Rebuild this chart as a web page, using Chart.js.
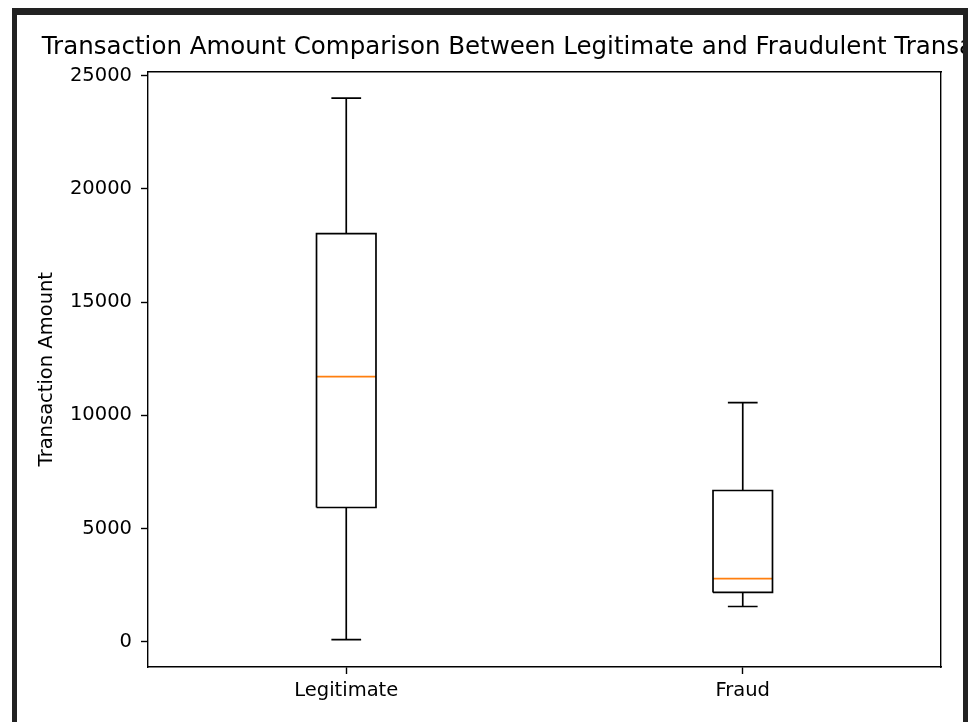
<!DOCTYPE html>
<html>
<head>
<meta charset="utf-8">
<script src="https://cdn.jsdelivr.net/npm/chart.js@4.4.1/dist/chart.umd.min.js"></script>
<style>
    body { margin: 0; background: #fff; overflow: hidden; }
    #frame {
        position: absolute; left: 12px; top: 8px;
        width: 946px; height: 720px;
        border-top: 7px solid #222; border-left: 5px solid #222; border-right: 5px solid #222;
        overflow: hidden;
    }
    #wrap { position: relative; width: 1055px; height: 707px; }
</style>
</head>
<body>
<div id="frame">
    <div id="wrap"><canvas id="boxChart"></canvas></div>
</div>
<script>
// Datos del diagrama de caja
const categories = ['Legitimate', 'Fraud'];
const whiskerLow = [100, 1560];
const q1 = [5930, 2180];
const median = [11710, 2790];
const q3 = [18020, 6680];
const whiskerHigh = [24000, 10560];
const yTicks = [0, 5000, 10000, 15000, 20000, 25000];

const FONT = "'DejaVu Sans', sans-serif";
const BOX_HALF = 0.075;   // mitad del ancho de la caja (unidades del eje x)
const CAP_HALF = 0.0375;  // mitad del ancho de los topes

function segment(points, color) {
    return {
        data: points,
        showLine: true,
        borderColor: color,
        borderWidth: 1.7,
        borderJoinStyle: 'miter',
        borderCapStyle: 'butt',
        pointRadius: 0,
        fill: false
    };
}

const datasets = [];
categories.forEach(function(name, i) {
    const p = i + 1;
    datasets.push(segment([
        {x: p - BOX_HALF, y: q1[i]}, {x: p + BOX_HALF, y: q1[i]},
        {x: p + BOX_HALF, y: q3[i]}, {x: p - BOX_HALF, y: q3[i]},
        {x: p - BOX_HALF, y: q1[i]}
    ], '#000'));
    datasets.push(segment([{x: p, y: q3[i]}, {x: p, y: whiskerHigh[i]}], '#000'));
    datasets.push(segment([{x: p - CAP_HALF, y: whiskerHigh[i]}, {x: p + CAP_HALF, y: whiskerHigh[i]}], '#000'));
    datasets.push(segment([{x: p, y: q1[i]}, {x: p, y: whiskerLow[i]}], '#000'));
    datasets.push(segment([{x: p - CAP_HALF, y: whiskerLow[i]}, {x: p + CAP_HALF, y: whiskerLow[i]}], '#000'));
    datasets.push(segment([{x: p - BOX_HALF, y: median[i]}, {x: p + BOX_HALF, y: median[i]}], '#ff7f0e'));
});

const axisBorder = { display: true, color: '#000', width: 1.4 };
const tickFont = { family: FONT, size: 19.5 };

new Chart(document.getElementById('boxChart'), {
    type: 'scatter',
    data: { datasets: datasets },
    options: {
        responsive: true,
        maintainAspectRatio: false,
        animation: false,
        devicePixelRatio: 1,
        layout: { padding: 0 },
        plugins: {
            legend: { display: false },
            tooltip: { enabled: false },
            title: {
                display: true,
                text: 'Transaction Amount Comparison Between Legitimate and Fraudulent Transactions',
                color: '#000',
                font: { family: FONT, size: 24.5, weight: 'normal' },
                padding: { top: 18, bottom: 9 }
            }
        },
        scales: {
            x: {
                type: 'linear',
                position: 'bottom',
                min: 0.5,
                max: 2.5,
                border: axisBorder,
                grid: { drawOnChartArea: false, tickLength: 7, color: '#000', tickWidth: 1.4 },
                ticks: {
                    color: '#000',
                    font: tickFont,
                    padding: 5,
                    callback: function(value) { return categories[value - 1]; }
                },
                afterBuildTicks: function(scale) {
                    scale.ticks = categories.map(function(c, i) { return { value: i + 1 }; });
                },
                afterFit: function(scale) { scale.height = 55; }
            },
            x2: {
                type: 'linear',
                position: 'top',
                min: 0.5,
                max: 2.5,
                border: axisBorder,
                grid: { display: false },
                ticks: { display: false },
                afterFit: function(scale) { scale.height = 0; }
            },
            y: {
                type: 'linear',
                position: 'left',
                min: -1110,
                max: 25180,
                border: axisBorder,
                grid: { drawOnChartArea: false, tickLength: 7, color: '#000', tickWidth: 1.4 },
                ticks: {
                    color: '#000',
                    font: tickFont,
                    padding: 9,
                    callback: function(value) { return String(value); }
                },
                afterBuildTicks: function(scale) {
                    scale.ticks = yTicks.map(function(v) { return { value: v }; });
                },
                title: {
                    display: true,
                    text: 'Transaction Amount',
                    color: '#000',
                    font: { family: FONT, size: 19.5 },
                    padding: { top: 18, bottom: 0 }
                },
                afterFit: function(scale) { scale.width = 131; }
            },
            y2: {
                type: 'linear',
                position: 'right',
                min: -1110,
                max: 25180,
                border: axisBorder,
                grid: { display: false },
                ticks: { display: false },
                afterFit: function(scale) { scale.width = 131; }
            }
        }
    }
});
</script>
</body>
</html>
